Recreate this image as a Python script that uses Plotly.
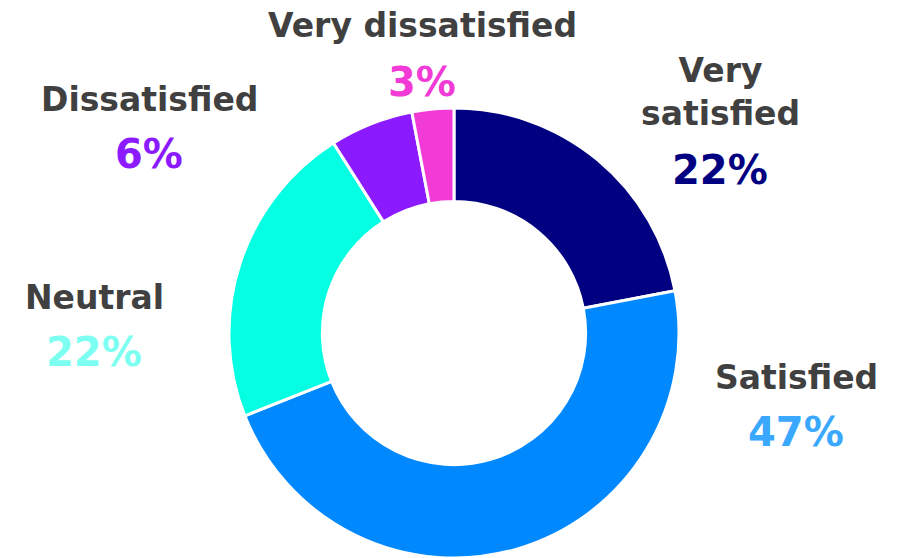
import plotly.graph_objects as go

# Survey responses, clockwise from 12 o'clock
labels = ["Very satisfied", "Satisfied", "Neutral", "Dissatisfied", "Very dissatisfied"]
values = [22, 47, 22, 6, 3]

# Styling
slice_colors = ["#000080", "#0088FF", "#05FFE2", "#8B1AFF", "#F23AD6"]
pct_colors = ["#000080", "#3AA8FF", "#7DFFF2", "#8B1AFF", "#F23AD6"]
name_text = ["Very<br>satisfied", "Satisfied", "Neutral", "Dissatisfied", "Very dissatisfied"]
W, H = 899, 558
FONT = "DejaVu Sans"
NAME_SIZE = 33
PCT_SIZE = 40
NAME_COLOR = "#404040"
# Label placement in pixels: (x centre, name y centre, percent y centre)
label_pos = [(720, 92, 170), (796, 377, 432), (94, 297, 352), (149, 99, 154), (422, 26, 82)]

fig = go.Figure(
    go.Pie(
        labels=labels,
        values=values,
        hole=0.585,
        sort=False,
        direction="clockwise",
        rotation=0,
        marker=dict(colors=slice_colors, line=dict(color="white", width=3)),
        textinfo="none",
        hoverinfo="label+percent",
        domain=dict(x=[0.01, 1.0], y=[0, 450 / H]),
        showlegend=False,
    )
)

total = sum(values)
annotations = []
for name, v, c, (x, yn, yp) in zip(name_text, values, pct_colors, label_pos):
    annotations.append(dict(
        text=f"<b>{name}</b>", x=x / W, y=1 - yn / H, xref="paper", yref="paper",
        xanchor="center", yanchor="middle", showarrow=False,
        font=dict(family=FONT, size=NAME_SIZE, color=NAME_COLOR),
    ))
    annotations.append(dict(
        text=f"<b>{v / total * 100:.0f}%</b>", x=x / W, y=1 - yp / H, xref="paper", yref="paper",
        xanchor="center", yanchor="middle", showarrow=False,
        font=dict(family=FONT, size=PCT_SIZE, color=c),
    ))

fig.update_layout(
    width=W,
    height=H,
    margin=dict(l=0, r=0, t=0, b=0),
    paper_bgcolor="white",
    plot_bgcolor="white",
    annotations=annotations,
)

fig.write_html("out.html")
